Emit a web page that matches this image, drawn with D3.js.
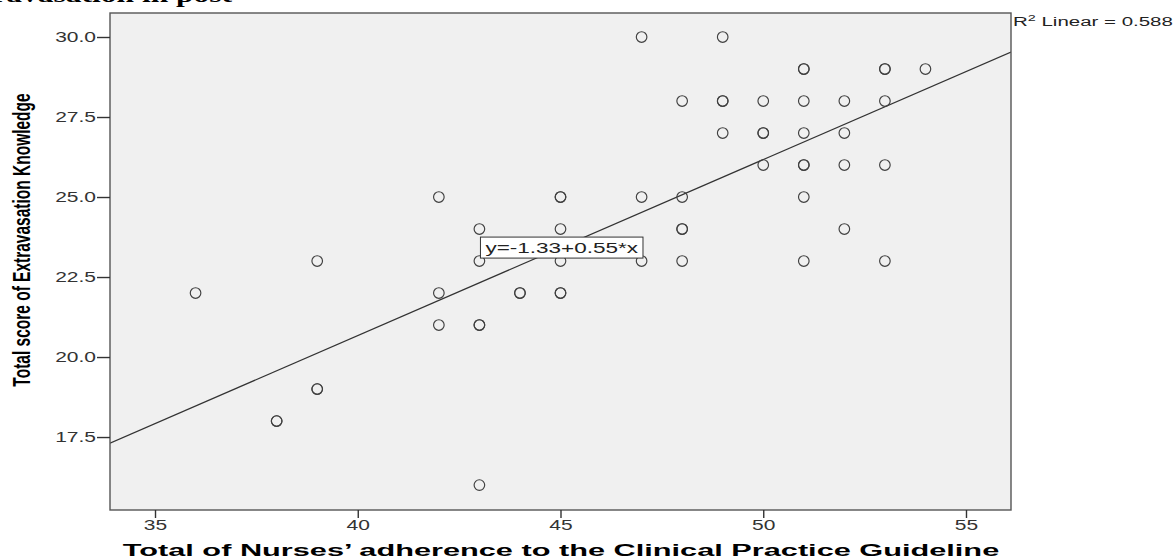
<!DOCTYPE html>
<html>
<head>
<meta charset="utf-8">
<script src="https://cdn.jsdelivr.net/npm/d3@7"></script>
<style>
  html, body { margin: 0; padding: 0; background: #fff; }
  svg { display: block; }
  text { font-family: "Liberation Sans", Arial, sans-serif; }
</style>
</head>
<body>
<svg id="chart" width="1176" height="560"></svg>
<script>
// ---- data ----
const adherence = [47, 49,
  51, 51, 53, 53, 54,
  48, 49, 49, 50, 51, 52, 53,
  49, 50, 50, 51, 52,
  50, 51, 51, 52, 53,
  42, 45, 45, 47, 48, 51,
  43, 45, 48, 48, 52,
  39, 43, 45, 47, 48, 51, 53,
  36, 42, 44, 44, 45, 45,
  42, 43, 43,
  39, 39,
  38, 38,
  43];
const knowledge = [30, 30,
  29, 29, 29, 29, 29,
  28, 28, 28, 28, 28, 28, 28,
  27, 27, 27, 27, 27,
  26, 26, 26, 26, 26,
  25, 25, 25, 25, 25, 25,
  24, 24, 24, 24, 24,
  23, 23, 23, 23, 23, 23, 23,
  22, 22, 22, 22, 22, 22,
  21, 21, 21,
  19, 19,
  18, 18,
  16];
const xTicks = [35, 40, 45, 50, 55];
const yTicks = [17.5, 20.0, 22.5, 25.0, 27.5, 30.0];
const xDomain = [33.89, 56.11];
const yDomain = [15.22, 30.75];
const fitIntercept = -1.33;
const fitSlope = 0.55;
const rSquared = 0.588;
const equationAnchor = [45.03, 23.42];
const xTitle = "Total of Nurses\u2019 adherence to the Clinical Practice Guideline";
const yTitle = "Total score of Extravasation Knowledge";
const topTitle = "Extravasation in post";

// ---- layout ----
const SX = 1.5; // horizontal stretch seen in the reference
const plot = { left: 110, right: 1011, top: 13, bottom: 510 };
const svg = d3.select("#chart");

const x = d3.scaleLinear().domain(xDomain).range([plot.left, plot.right]);
const y = d3.scaleLinear().domain(yDomain).range([plot.bottom, plot.top]);

// clipped title fragment at the very top
svg.append("text")
  .attr("transform", `translate(232,1.5) scale(${SX},1)`)
  .attr("text-anchor", "end")
  .style("font-family", "'Liberation Serif', 'Times New Roman', serif")
  .style("font-weight", "bold")
  .style("font-size", "21px")
  .attr("fill", "#000")
  .text(topTitle);

// plot background
svg.append("rect")
  .attr("x", plot.left).attr("y", plot.top)
  .attr("width", plot.right - plot.left).attr("height", plot.bottom - plot.top)
  .attr("fill", "#f0f0f0");

svg.append("defs").append("clipPath").attr("id", "clip")
  .append("rect")
  .attr("x", plot.left).attr("y", plot.top)
  .attr("width", plot.right - plot.left).attr("height", plot.bottom - plot.top);

// fit line
const fx = d => fitIntercept + fitSlope * d;
svg.append("line")
  .attr("clip-path", "url(#clip)")
  .attr("x1", x(xDomain[0])).attr("y1", y(fx(xDomain[0])))
  .attr("x2", x(xDomain[1])).attr("y2", y(fx(xDomain[1])))
  .attr("stroke", "#333").attr("stroke-width", 1.2);

// points
svg.append("g")
  .selectAll("circle")
  .data(adherence.map((d, i) => [d, knowledge[i]]))
  .join("circle")
  .attr("cx", d => x(d[0]))
  .attr("cy", d => y(d[1]))
  .attr("r", 5.3)
  .attr("fill", "none")
  .attr("stroke", "#404040")
  .attr("stroke-width", 1.15);

// frame
svg.append("rect")
  .attr("x", plot.left).attr("y", plot.top)
  .attr("width", plot.right - plot.left).attr("height", plot.bottom - plot.top)
  .attr("fill", "none")
  .attr("stroke", "#555").attr("stroke-width", 1.4);

// y axis
const yAxis = svg.append("g")
  .attr("transform", `translate(${plot.left},0)`)
  .call(d3.axisLeft(y).tickValues(yTicks).tickFormat(d3.format(".1f")).tickSize(13));
yAxis.select(".domain").remove();
yAxis.selectAll(".tick line").attr("stroke", "#333").attr("stroke-width", 1.4);
yAxis.selectAll(".tick text")
  .attr("x", -14 / SX)
  .attr("transform", `scale(${SX},1)`)
  .attr("fill", "#333")
  .style("font-size", "14px");

// x axis
const xAxis = svg.append("g")
  .attr("transform", `translate(0,${plot.bottom})`)
  .call(d3.axisBottom(x).tickValues(xTicks).tickSize(8));
xAxis.select(".domain").remove();
xAxis.selectAll(".tick line").attr("stroke", "#333").attr("stroke-width", 1.4);
xAxis.selectAll(".tick text")
  .attr("y", 20.5).attr("dy", 0)
  .attr("transform", `scale(${SX},1)`)
  .attr("fill", "#333")
  .style("font-size", "14px");

// helper: stretch a text horizontally to a target width
function stretchTo(sel, width) {
  return width / sel.node().getComputedTextLength();
}

// axis titles
const xt = svg.append("text")
  .attr("text-anchor", "middle")
  .style("font-weight", "bold")
  .style("font-size", "17px")
  .attr("fill", "#000")
  .text(xTitle);
xt.attr("transform", `translate(561,556) scale(${stretchTo(xt, 877)},1)`);

svg.append("text")
  .attr("transform", `translate(30,240) scale(${SX},1) rotate(-90)`)
  .attr("text-anchor", "middle")
  .style("font-weight", "bold")
  .style("font-size", "15.5px")
  .attr("fill", "#000")
  .text(yTitle);

// equation label
const eq = svg.append("g")
  .attr("transform", `translate(${x(equationAnchor[0])},${y(equationAnchor[1])})`);
const eqRect = eq.append("rect").attr("fill", "#fff").attr("stroke", "#333").attr("stroke-width", 1);
const eqText = eq.append("text")
  .attr("transform", `scale(${SX},1)`)
  .attr("text-anchor", "middle")
  .attr("dy", "0.35em")
  .style("font-size", "15px")
  .attr("fill", "#222")
  .text(`y=${fitIntercept.toFixed(2)}+${fitSlope.toFixed(2)}*x`);
const w = eqText.node().getComputedTextLength() * SX;
eqRect.attr("x", -w / 2 - 5).attr("y", -10.5).attr("width", w + 10).attr("height", 21);

// R-squared label
const r2 = svg.append("text")
  .style("font-size", "13.5px")
  .attr("fill", "#222");
r2.append("tspan").text("R");
r2.append("tspan").attr("dy", -5).style("font-size", "9.5px").text("2");
r2.append("tspan").attr("dy", 5).text(` Linear = ${rSquared.toFixed(3)}`);
r2.attr("transform", `translate(${plot.right + 2},26) scale(${stretchTo(r2, 160)},1)`);
</script>
</body>
</html>
